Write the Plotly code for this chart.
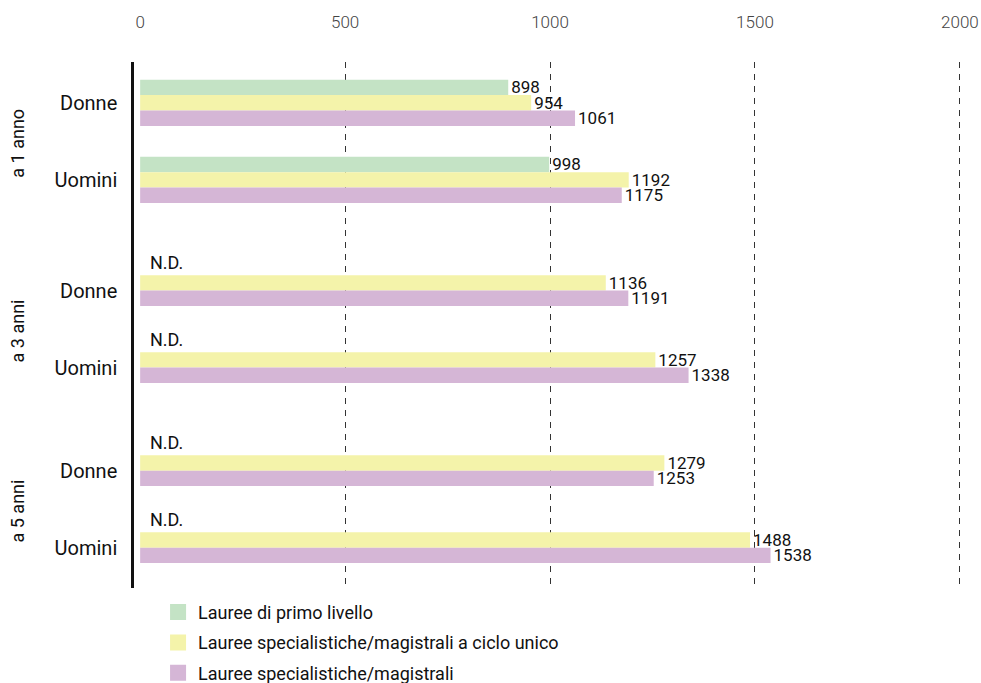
import plotly.graph_objects as go

# Dati
righe = ["Donne", "Uomini", "Donne", "Uomini", "Donne", "Uomini"]
periodi = ["a 1 anno", "a 3 anni", "a 5 anni"]
primo_livello = [898, 998, None, None, None, None]
ciclo_unico = [954, 1192, 1136, 1257, 1279, 1488]
magistrali = [1061, 1175, 1191, 1338, 1253, 1538]
tick_x = [0, 500, 1000, 1500, 2000]

serie = [
    ("Lauree di primo livello", primo_livello, "#c4e3c5"),
    ("Lauree specialistiche/magistrali a ciclo unico", ciclo_unico, "#f4f3aa"),
    ("Lauree specialistiche/magistrali", magistrali, "#d5b6d6"),
]

FONT = "Roboto"
GAP_PERIODO = 0.338  # spazio extra tra un periodo e l'altro

# posizione di ogni riga sull'asse y (asse numerico invertito)
pos = [i + (i // 2) * GAP_PERIODO for i in range(len(righe))]

fig = go.Figure()
for k, (nome, valori, colore) in enumerate(serie):
    fig.add_trace(go.Bar(
        y=pos,
        x=valori,
        orientation="h",
        name=nome,
        marker=dict(color=colore, line=dict(width=0)),
        text=[str(v) if v is not None else "" for v in valori],
        textposition="outside",
        textfont=dict(family=FONT, size=17, color="#111"),
        constraintext="none",
        cliponaxis=False,
        showlegend=False,
        hoverinfo="skip",
    ))

# voci di legenda con quadrati più grandi
for k, (nome, valori, colore) in enumerate(serie):
    fig.add_trace(go.Scatter(
        x=[None], y=[None],
        mode="markers",
        name=nome,
        marker=dict(symbol="square", size=16, color=colore),
        legendgroup=f"g{k}",
        hoverinfo="skip",
    ))

# N.D. dove manca il dato
for p, v in zip(pos, primo_livello):
    if v is None:
        fig.add_annotation(
            x=0, y=p - 0.2, xref="x", yref="y",
            text="N.D.", showarrow=False,
            xanchor="left", yanchor="middle", xshift=8, yshift=5,
            font=dict(family=FONT, size=18, color="#111"),
        )

# etichette righe (centrate sulle barre presenti)
tickvals = [p + (0.1 if v is None else 0) for p, v in zip(pos, primo_livello)]

# etichette periodi, ruotate
for j, periodo in enumerate(periodi):
    fig.add_annotation(
        x=-0.14, y=(tickvals[2 * j] + tickvals[2 * j + 1]) / 2 + 0.02,
        xref="paper", yref="y",
        text=periodo, textangle=-90, showarrow=False,
        xanchor="center", yanchor="middle",
        font=dict(family=FONT, size=18, color="#111"),
    )

fig.update_layout(
    width=981, height=683,
    margin=dict(l=134, r=17, t=62, b=95, autoexpand=False),
    paper_bgcolor="white",
    plot_bgcolor="white",
    barmode="group",
    bargap=0.4,
    bargroupgap=0,
    showlegend=True,
    legend=dict(
        orientation="v",
        x=0.029, y=-0.011, xanchor="left", yanchor="top",
        font=dict(family=FONT, size=18, color="#111"),
        traceorder="grouped",
        tracegroupgap=4,
        itemsizing="trace",
        bgcolor="rgba(0,0,0,0)",
    ),
    xaxis=dict(
        side="top",
        range=[-15, 2010],
        tickvals=tick_x,
        ticktext=[str(t) for t in tick_x],
        showgrid=False,
        zeroline=False,
        showline=False,
        ticks="",
        ticklabelstandoff=30,
        tickfont=dict(family=FONT, size=17, color="#444", weight=300),
        minor=dict(
            tickvals=tick_x[1:],
            showgrid=True,
            griddash="6px,6px",
            gridcolor="#333",
            gridwidth=1.3,
            ticks="",
        ),
        fixedrange=True,
    ),
    yaxis=dict(
        autorange=False,
        range=[6.3, -0.53],
        tickvals=tickvals,
        ticktext=righe,
        showgrid=False,
        zeroline=False,
        showline=True,
        linecolor="#111",
        linewidth=2.5,
        ticks="",
        ticklabelstandoff=10,
        tickfont=dict(family=FONT, size=20, color="#111"),
        fixedrange=True,
    ),
)

# niente margine del body, così la figura occupa esattamente la finestra
fig.write_html(
    "out.html",
    config={"displayModeBar": False},
    post_script="document.body.style.margin='0';document.body.style.overflow='hidden';",
)
